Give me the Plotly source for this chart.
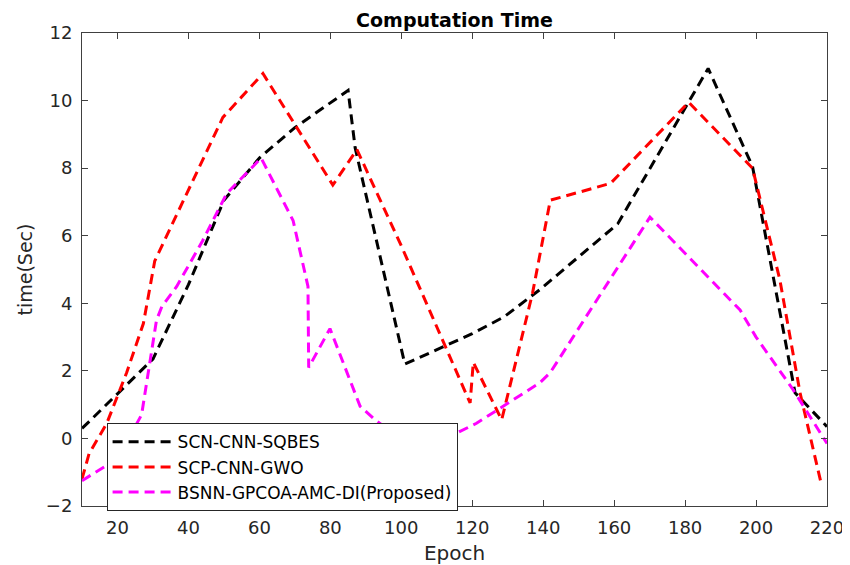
import plotly.graph_objects as go

# SCN-CNN-SQBES
scn_x = [10, 12, 30, 40, 50, 60, 70, 85, 87, 101, 120, 129, 139, 161, 186.5, 199, 211, 220]
scn_y = [0.3, 0.5, 2.35, 4.55, 7.05, 8.3, 9.2, 10.3, 8.6, 2.2, 3.1, 3.6, 4.4, 6.35, 10.95, 8.05, 1.35, 0.35]

# SCP-CNN-GWO
scp_x = [10, 12, 17, 22.6, 27.3, 30.5, 49.7, 61, 80.7, 87.5, 100, 119.4, 120.3, 128.3, 137, 142, 159, 181, 199, 206.7, 212.4, 218.5]
scp_y = [-1.2, -0.45, 0.45, 1.95, 3.4, 5.25, 9.5, 10.8, 7.5, 8.55, 5.7, 1.05, 2.25, 0.55, 4.3, 7.05, 7.55, 9.95, 8.0, 4.7, 1.35, -1.4]

# BSNN-GPCOA-AMC-DI(Proposed)
bsnn_x = [10, 20, 26.8, 31, 32.5, 36.7, 44, 50.8, 60.5, 69.5, 73.7, 73.9, 79.9, 88.4, 92.6, 105, 121.2, 139.1, 142, 170.1, 195.5, 200, 210.4, 220]
bsnn_y = [-1.25, -0.6, 0.7, 3.5, 3.9, 4.5, 5.85, 7.25, 8.3, 6.45, 4.5, 2.1, 3.25, 0.95, 0.55, -0.4, 0.45, 1.65, 1.95, 6.55, 3.8, 3.0, 1.45, -0.15]

x_ticks = [20, 40, 60, 80, 100, 120, 140, 160, 180, 200, 220]
y_ticks = [-2, 0, 2, 4, 6, 8, 10, 12]

series = [
    ("SCN-CNN-SQBES", scn_x, scn_y, "#000000"),
    ("SCP-CNN-GWO", scp_x, scp_y, "#ff0000"),
    ("BSNN-GPCOA-AMC-DI(Proposed)", bsnn_x, bsnn_y, "#ff00ff"),
]

FONT = "DejaVu Sans, Liberation Sans, Arial"

fig = go.Figure()
for name, xs, ys, col in series:
    fig.add_trace(go.Scatter(
        x=xs, y=ys, mode="lines", name=name,
        line=dict(color=col, width=3, dash="10px,6px"),
    ))

axis_common = dict(
    showgrid=False, zeroline=False, showline=True, linecolor="#404040",
    linewidth=1, mirror="ticks", ticks="inside", ticklen=6, tickcolor="#404040",
    tickfont=dict(family=FONT, size=18, color="#262626"),
    automargin=False, ticklabelstandoff=5,
)

fig.update_layout(
    width=842, height=557,
    margin=dict(l=74, r=23, t=25, b=59),
    paper_bgcolor="white", plot_bgcolor="white",
    title=dict(text="<b>Computation Time</b>", x=0.5, xref="paper", xanchor="center",
               y=0.9785, yref="container", yanchor="middle",
               font=dict(family=FONT, size=19, color="#000000")),
    xaxis=dict(range=[10, 220], tickvals=x_ticks,
               title=dict(text="Epoch", font=dict(family=FONT, size=20, color="#262626"), standoff=10),
               **axis_common),
    yaxis=dict(range=[-2, 12], tickvals=y_ticks,
               title=dict(text="time(Sec)", font=dict(family=FONT, size=19, color="#262626"), standoff=8),
               **axis_common),
    legend=dict(x=0.033, y=0.175, xanchor="left", yanchor="top",
                bgcolor="white", bordercolor="#262626", borderwidth=1,
                font=dict(family=FONT, size=17, color="#000000"),
                itemwidth=60, tracegroupgap=0, traceorder="normal"),
    showlegend=True,
)

fig.write_html("out.html")
